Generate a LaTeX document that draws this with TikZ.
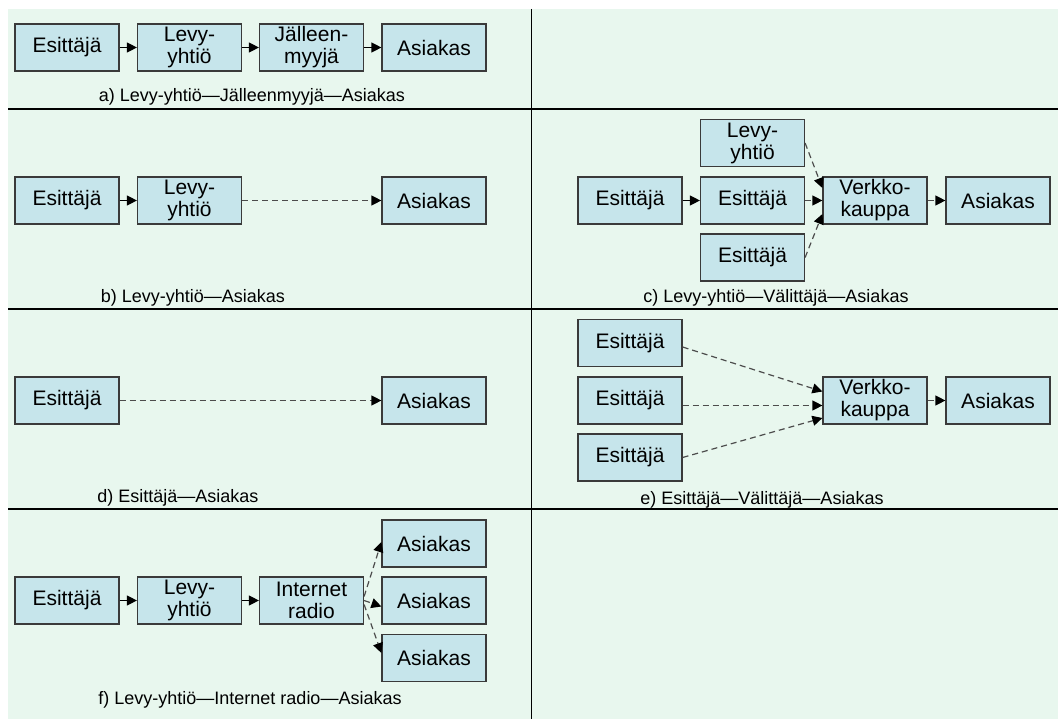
\documentclass[tikz,border=0pt]{standalone}
\usepackage{fontspec}
\setmainfont{Liberation Sans}
\usetikzlibrary{arrows.meta}
\definecolor{bgc}{HTML}{E8F7EE}
\definecolor{boxc}{HTML}{C6E5EB}
\definecolor{edgec}{HTML}{3A3A3A}
\tikzset{
  bx/.style={draw=edgec, fill=boxc, line width=1.2pt, minimum width=104pt, minimum height=47pt, inner sep=0pt, align=center, font=\fontsize{21}{22}\selectfont},
  captxt/.style={font=\fontsize{18}{20}\selectfont, inner sep=0pt},
  arr/.style={-{Triangle[length=10pt,width=10pt]}, line width=1.3pt, black},
  darr/.style={-{Triangle[length=10pt,width=10pt,color=black,fill=black]}, line width=1.2pt, black!70, dash pattern=on 6pt off 4pt},
  sepline/.style={line width=1.6pt, black}
}
\begin{document}
\begin{tikzpicture}[x=1pt,y=-1pt]
\useasboundingbox (0,0) rectangle (1058,719);
\fill[white] (0,0) rectangle (1058,719);
\fill[bgc] (8,9) rectangle (1058,719);
% separators
\draw[sepline] (8,109) -- (1058,109);
\draw[sepline] (8,309) -- (1058,309);
\draw[sepline] (8,509) -- (1058,509);
\draw[sepline] (531.5,9) -- (531.5,719);
% panel a
\node[bx] (a1) at (67,47.5) {Esittäjä};
\node[bx] (a2) at (189.5,47.5) {Levy-\\yhtiö};
\node[bx] (a3) at (311.5,47.5) {Jälleen-\\myyjä};
\node[bx] (a4) at (434,47.5) {Asiakas};
\draw[arr] (a1) -- (a2);
\draw[arr] (a2) -- (a3);
\draw[arr] (a3) -- (a4);
\node[captxt] (ca) at (252,97) {a) Levy-yhtiö—Jälleenmyyjä—Asiakas};
% panel b
\node[bx] (b1) at (67,200.5) {Esittäjä};
\node[bx] (b2) at (189.5,200.5) {Levy-\\yhtiö};
\node[bx] (b4) at (434,200.5) {Asiakas};
\draw[arr] (b1) -- (b2);
\draw[darr] (b2) -- (b4);
\node[captxt] (cb) at (193,298) {b) Levy-yhtiö—Asiakas};
% panel c
\node[bx] (c0) at (752.5,143) {Levy-\\yhtiö};
\node[bx] (c1) at (630,200.5) {Esittäjä};
\node[bx] (c2) at (752.5,200.5) {Esittäjä};
\node[bx] (c3) at (752.5,257.5) {Esittäjä};
\node[bx] (c4) at (875,200.5) {Verkko-\\kauppa};
\node[bx] (c5) at (998,200.5) {Asiakas};
\draw[arr] (c1) -- (c2);
\draw[darr] (c0.east) -- ([yshift=12.5pt]c4.west);
\draw[darr] (c2) -- (c4);
\draw[darr] (c3.east) -- ([yshift=-13.5pt]c4.west);
\draw[darr] (c4) -- (c5);
\node[captxt] (cc) at (776,298) {c) Levy-yhtiö—Välittäjä—Asiakas};
% panel d
\node[bx] (d1) at (67,400.5) {Esittäjä};
\node[bx] (d4) at (434,400.5) {Asiakas};
\draw[darr] (d1) -- (d4);
\node[captxt] (cd) at (178,498) {d) Esittäjä—Asiakas};
% panel e
\node[bx] (e1) at (630,343) {Esittäjä};
\node[bx] (e2) at (630,400.5) {Esittäjä};
\node[bx] (e3) at (630,457.5) {Esittäjä};
\node[bx] (e4) at (875,400.5) {Verkko-\\kauppa};
\node[bx] (e5) at (998,400.5) {Asiakas};
\draw[darr] ([yshift=-4pt]e1.east) -- ([yshift=9pt]e4.west);
\draw[darr] ([yshift=-5pt]e2.east) -- ([yshift=-5pt]e4.west);
\draw[darr] (e3.east) -- ([yshift=-17.5pt]e4.west);
\draw[darr] (e4) -- (e5);
\node[captxt] (ce) at (762,500) {e) Esittäjä—Välittäjä—Asiakas};
% panel f
\node[bx] (f1) at (67,600.5) {Esittäjä};
\node[bx] (f2) at (189.5,600.5) {Levy-\\yhtiö};
\node[bx] (f3) at (311.5,600.5) {Internet\\radio};
\node[bx] (f4) at (434,543.5) {Asiakas};
\node[bx] (f5) at (434,600.5) {Asiakas};
\node[bx] (f6) at (434,658) {Asiakas};
\draw[arr] (f1) -- (f2);
\draw[arr] (f2) -- (f3);
\draw[darr] ([yshift=4pt]f3.east) -- ([yshift=1.5pt]f4.west);
\draw[darr] (f3.east) -- ([yshift=-6pt]f5.west);
\draw[darr] ([yshift=-4pt]f3.east) -- ([yshift=5pt]f6.west);
\node[captxt] (cf) at (250,700) {f) Levy-yhtiö—Internet radio—Asiakas};
\end{tikzpicture}
\end{document}
